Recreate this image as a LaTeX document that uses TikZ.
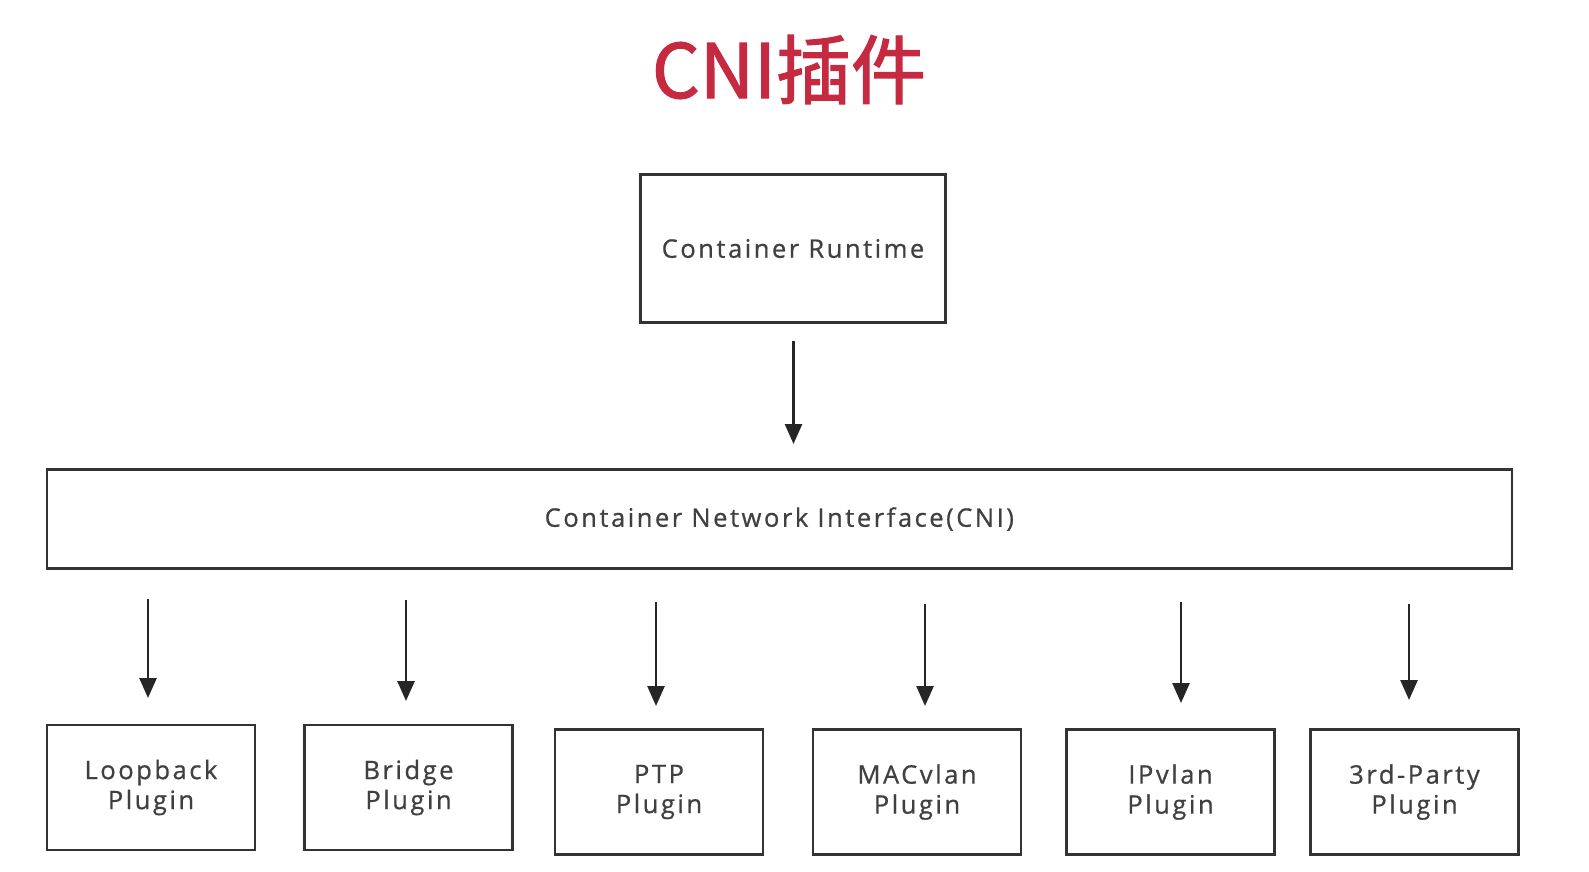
\documentclass[tikz,border=0pt]{standalone}
\usepackage{fontspec}
\setmainfont{Open Sans}[LetterSpace=10,FakeBold=0.7]
\newfontfamily\cjkfont{Noto Sans CJK SC}[FakeBold=1.6]
\usetikzlibrary{arrows.meta}
\definecolor{titlered}{HTML}{C52A40}
\definecolor{boxline}{HTML}{333333}
\definecolor{txt}{HTML}{404040}
\begin{document}
\begin{tikzpicture}[x=1pt,y=-1pt,
  box/.style={draw=boxline,line width=2.6pt,inner sep=0pt,align=center,text=txt,
    font=\fontsize{25.5}{30}\selectfont},
  plug/.style={box,minimum width=208pt,minimum height=125pt},
  arr/.style={draw=black!85,line width=2.6pt,-{Triangle[width=17pt,length=20pt]}}]
\fill[white] (0,0) rectangle (1589,871);
\useasboundingbox (0,0) rectangle (1589,871);

\node[anchor=base,text=titlered,inner sep=0pt,font=\cjkfont\fontsize{75}{80}\selectfont] (title) at (789,98) {CNI插件};

\node[box,minimum width=305pt,minimum height=148pt] (cr) at (793,248.5) {Container Runtime};
\node[box,minimum width=1465pt,minimum height=99pt] (cni) at (779.3,519) {Container Network Interface(CNI)};

\node[plug] (lb)  at (151,787.5)   {Loopback\\Plugin};
\node[plug] (br)  at (408.5,787.5) {Bridge\\Plugin};
\node[plug] (ptp) at (659,792)     {PTP\\Plugin};
\node[plug] (mac) at (917,792)     {MACvlan\\Plugin};
\node[plug] (ipv) at (1170.5,792)  {IPvlan\\Plugin};
\node[plug] (trd) at (1414.5,792)  {3rd-Party\\Plugin};

\coordinate (s0) at (793.5,340.5); \coordinate (e0) at (793.5,444);
\coordinate (s1) at (148,599);  \coordinate (e1) at (148,698);
\coordinate (s2) at (406,600);  \coordinate (e2) at (406,701);
\coordinate (s3) at (656,602);  \coordinate (e3) at (656,706);
\coordinate (s4) at (925,604);  \coordinate (e4) at (925,706);
\coordinate (s5) at (1181,602); \coordinate (e5) at (1181,703);
\coordinate (s6) at (1409,604); \coordinate (e6) at (1409,700);
\foreach \i in {0,...,6} {\draw[arr] (s\i) -- (e\i);}
\end{tikzpicture}
\end{document}
